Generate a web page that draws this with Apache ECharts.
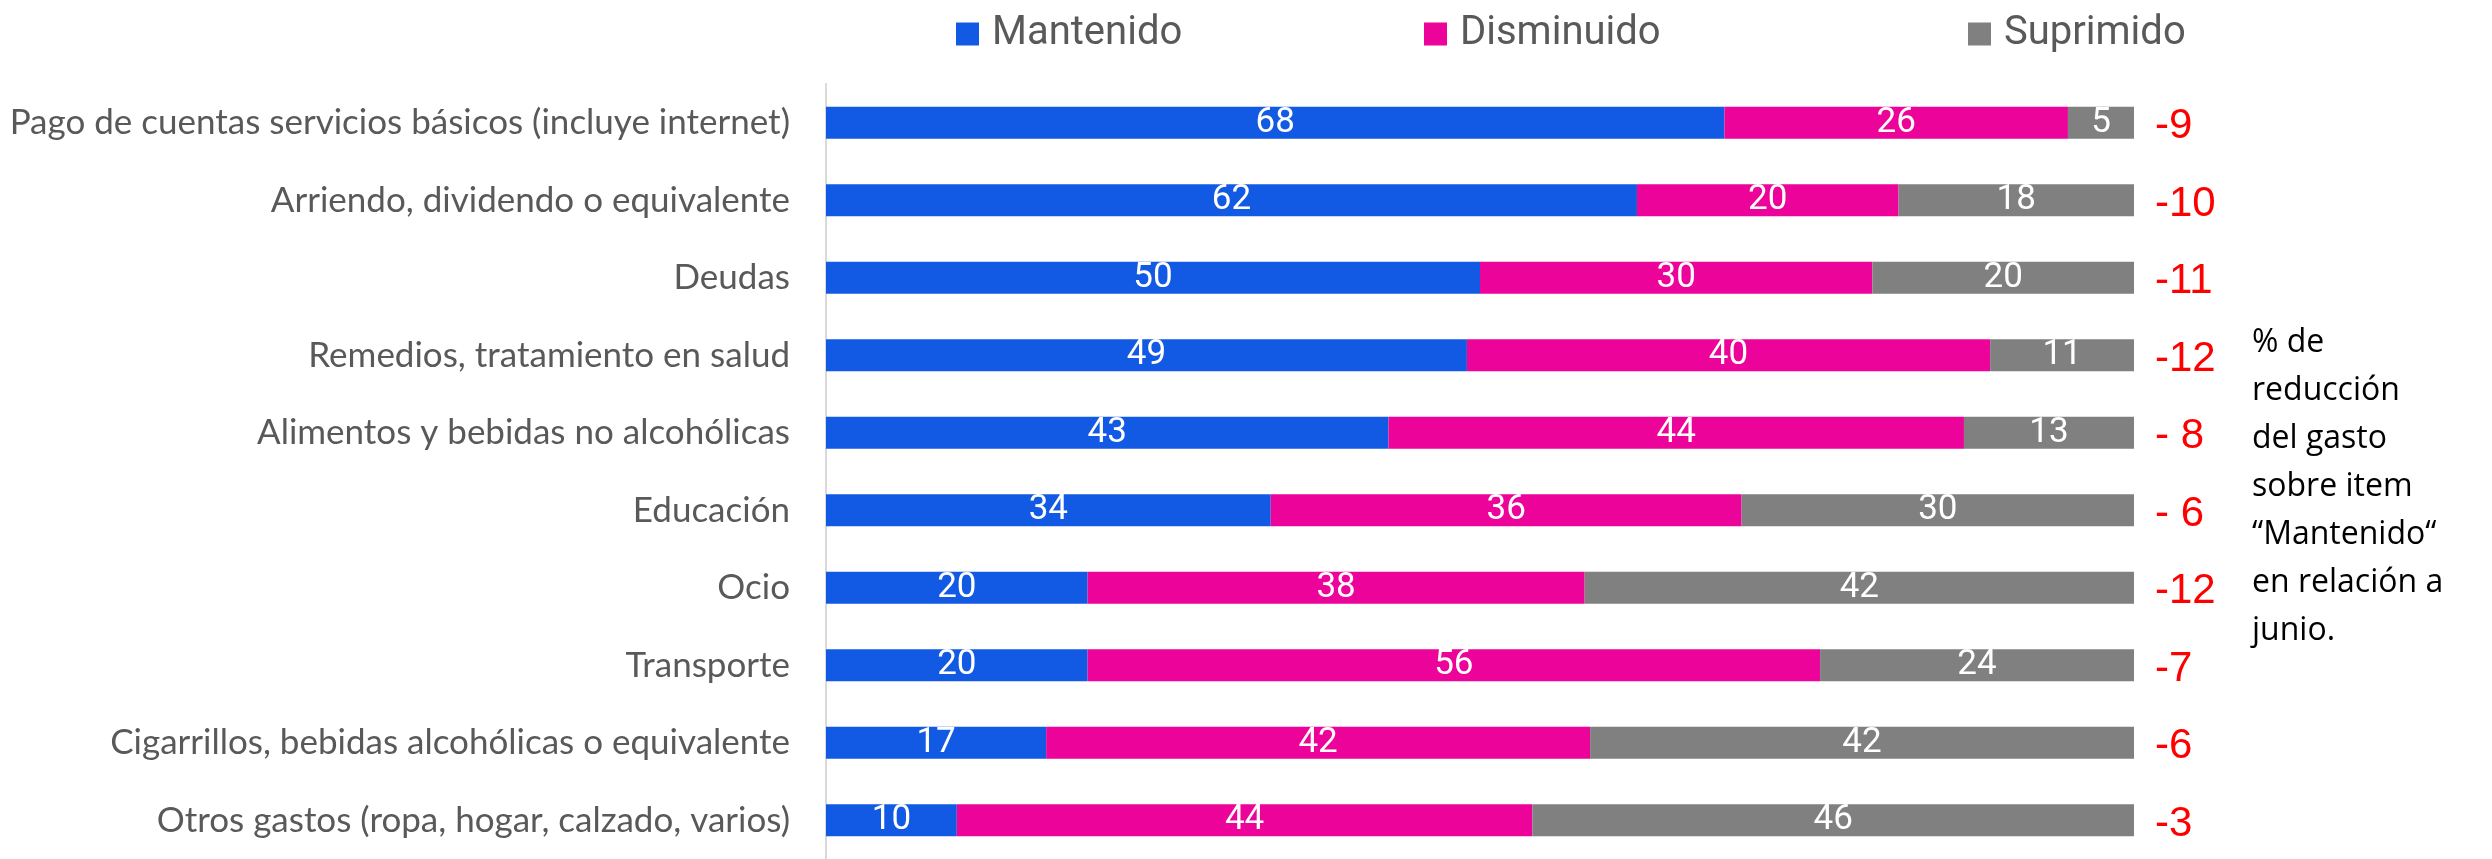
<!DOCTYPE html>
<html>
<head>
<meta charset="utf-8">
<script src="https://cdn.jsdelivr.net/npm/echarts@6/dist/echarts.min.js"></script>
<style>
    html, body {margin: 0; padding: 0; background: #fff;}
    #chart {width: 2492px; height: 859px;}
</style>
</head>
<body>
<div id="chart"></div>
<script>
const categories = [
    'Pago de cuentas servicios básicos (incluye internet)',
    'Arriendo, dividendo o equivalente',
    'Deudas',
    'Remedios, tratamiento en salud',
    'Alimentos y bebidas no alcohólicas',
    'Educación',
    'Ocio',
    'Transporte',
    'Cigarrillos, bebidas alcohólicas o equivalente',
    'Otros gastos (ropa, hogar, calzado, varios)',
];
const mantenido = [68, 62, 50, 49, 43, 34, 20, 20, 17, 10];
const disminuido = [26, 20, 30, 40, 44, 36, 38, 56, 42, 44];
const suprimido = [5, 18, 20, 11, 13, 30, 42, 24, 42, 46];
const reduccion = ['-9', '-10', '-11', '-12', '- 8', '- 6', '-12', '-7', '-6', '-3'];
const noteLines = ['% de', 'reducción', 'del gasto', 'sobre item', '“Mantenido“', 'en relación a', 'junio.'];

const colors = {Mantenido: '#125ae3', Disminuido: '#ec0399', Suprimido: '#808080'};

// bars are drawn as shares of each row total (rounded labels don't always add to 100)
const totals = categories.map((_, i) => mantenido[i] + disminuido[i] + suprimido[i]);
const share = (arr) => arr.map((v, i) => ({value: v / totals[i] * 100, raw: v}));

const chart = echarts.init(document.getElementById('chart'), null, {renderer: 'canvas'});

function stackSeries(name, values) {
    return {
        name,
        type: 'bar',
        stack: 'total',
        barWidth: 32,
        barGap: '-100%',
        itemStyle: {color: colors[name]},
        label: {
            show: true,
            position: 'inside',
            color: '#fff',
            fontFamily: 'Roboto',
            fontSize: 35,
            formatter: p => p.data.raw,
        },
        emphasis: {disabled: true},
        data: share(values),
    };
}

function legendAt(name, left) {
    return {
        data: [name],
        left,
        top: 9,
        icon: 'rect',
        itemWidth: 23,
        itemHeight: 23,
        selectedMode: false,
        textStyle: {
            color: '#595959',
            fontFamily: 'Roboto',
            fontSize: 40,
            padding: [0, 0, 0, 8],
        },
    };
}

chart.setOption({
    animation: false,
    legend: [
        legendAt('Mantenido', 951),
        legendAt('Disminuido', 1419),
        legendAt('Suprimido', 1963),
    ],
    grid: {left: 826, right: 358, top: 84, height: 784, containLabel: false},
    xAxis: {
        type: 'value',
        min: 0,
        max: 100,
        show: false,
    },
    yAxis: {
        type: 'category',
        inverse: true,
        data: categories,
        axisLine: {show: true, lineStyle: {color: '#d9d9d9', width: 2}},
        axisTick: {show: false},
        axisLabel: {
            color: '#595959',
            fontFamily: 'Lato',
            fontSize: 35,
            margin: 36,
        },
    },
    series: [
        stackSeries('Mantenido', mantenido),
        stackSeries('Disminuido', disminuido),
        stackSeries('Suprimido', suprimido),
        {
            name: 'reduccion',
            type: 'bar',
            barWidth: 32,
            barGap: '-100%',
            silent: true,
            z: 1,
            itemStyle: {color: 'rgba(0,0,0,0)'},
            label: {
                show: true,
                position: 'right',
                distance: 21,
                offset: [0, 4],
                color: '#ff0000',
                fontFamily: 'Liberation Sans',
                fontSize: 42,
                formatter: p => reduccion[p.dataIndex],
            },
            data: totals.map(() => 100),
        },
    ],
    graphic: [{
        type: 'text',
        left: 2252,
        top: 319,
        style: {
            text: noteLines.join('\n'),
            fill: '#000',
            font: '32px "Open Sans"',
            lineHeight: 48,
        },
    }],
});
</script>
</body>
</html>
